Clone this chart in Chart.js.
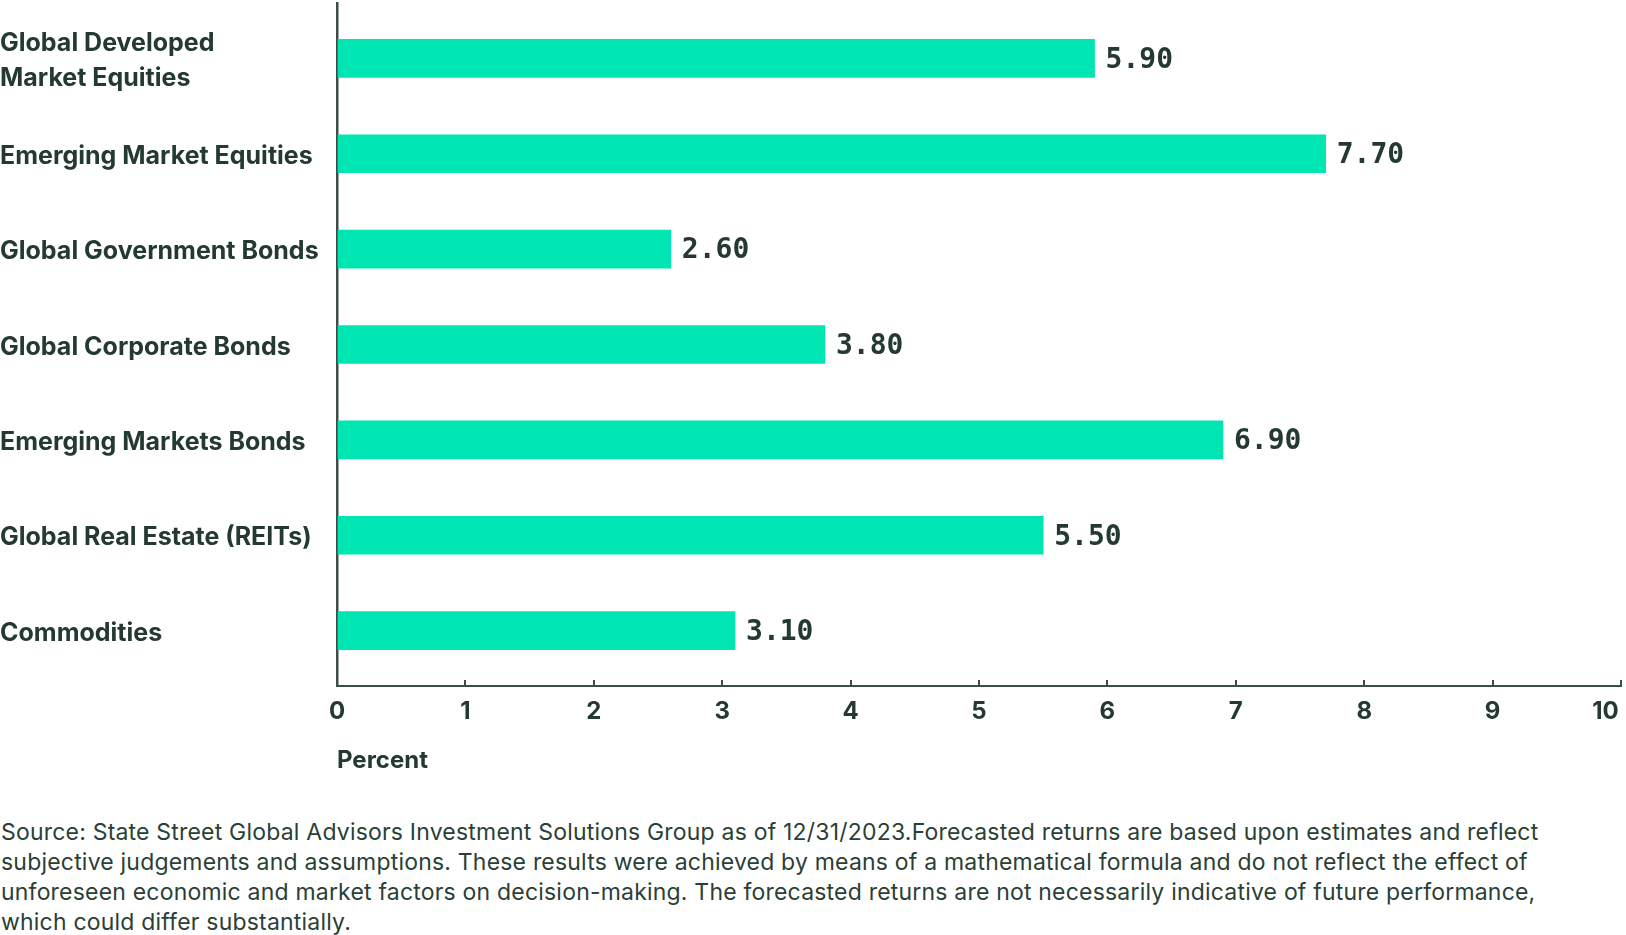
<!DOCTYPE html>
<html>
<head>
<meta charset="utf-8">
<script src="https://cdn.jsdelivr.net/npm/chart.js@4.4.1/dist/chart.umd.min.js"></script>
<style>
  html, body { margin: 0; background: #fff; overflow: hidden; }
  #box { position: relative; width: 1626px; height: 790px; }
  #nota {
    position: absolute; left: 1px; top: 817px; width: 1610px;
    font-family: Inter, sans-serif; font-size: 23px; line-height: 30px;
    color: #2b3f35; letter-spacing: 0.2px; white-space: nowrap;
  }
</style>
</head>
<body>
<div id="box"><canvas id="grafico"></canvas></div>
<div id="nota">Source: State Street Global Advisors Investment Solutions Group as of 12/31/2023.Forecasted returns are based upon estimates and reflect<br>subjective judgements and assumptions. These results were achieved by means of a mathematical formula and do not reflect the effect of<br>unforeseen economic and market factors on decision-making. The forecasted returns are not necessarily indicative of future performance,<br>which could differ substantially.</div>

<script>
var Categorias = [
    ["Global Developed", "Market Equities"],
    "Emerging Market Equities",
    "Global Government Bonds",
    "Global Corporate Bonds",
    "Emerging Markets Bonds",
    "Global Real Estate (REITs)",
    "Commodities"
];
var Retornos = [5.90, 7.70, 2.60, 3.80, 6.90, 5.50, 3.10];
var TicksX = [0, 1, 2, 3, 4, 5, 6, 7, 8, 9, 10];

var CorTexto = "#243a30";
var CorEixo = "#3c4f46";

var pontos = [];
for (var i = 0; i < Retornos.length; i++) {
    pontos[i] = { x: Retornos[i], y: i };
}

// rotulos de valor ao lado das barras
var rotulosValor = {
    id: 'rotulosValor',
    afterDatasetsDraw: function (chart) {
        var ctx = chart.ctx;
        var barras = chart.getDatasetMeta(0).data;
        ctx.save();
        ctx.font = "bold 28px 'DejaVu Sans Mono'";
        ctx.fillStyle = CorTexto;
        ctx.textBaseline = "middle";
        ctx.textAlign = "left";
        for (var i = 0; i < barras.length; i++) {
            ctx.fillText(Retornos[i].toFixed(2), barras[i].x + 11, barras[i].y + 2);
        }
        ctx.restore();
    }
};

new Chart(document.getElementById("grafico"), {
    type: 'bar',
    data: {
        datasets: [{
            data: pontos,
            backgroundColor: "#00e6b2",
            barThickness: 38
        }]
    },
    options: {
        indexAxis: 'y',
        responsive: true,
        maintainAspectRatio: false,
        animation: false,
        layout: { autoPadding: false, padding: { top: 3, right: 5, left: 0, bottom: 0 } },
        plugins: { legend: { display: false }, tooltip: { enabled: false } },
        scales: {
            y: {
                type: 'linear',
                reverse: true,
                offset: false,
                min: -0.58,
                max: 6.58,
                afterBuildTicks: function (scale) {
                    // rotulos um pouco abaixo do centro da barra, como no original
                    scale.ticks = Categorias.map(function (c, i) { return { value: i + 0.028 }; });
                },
                afterFit: function (scale) {
                    scale.width = 337;
                    scale.paddingTop = 0;
                    scale.paddingBottom = 0;
                },
                grid: { display: false, offset: false },
                border: { display: true, color: CorEixo, width: 2.5 },
                ticks: {
                    crossAlign: 'far',
                    autoSkip: false,
                    color: CorTexto,
                    font: { family: 'Inter', size: 25, weight: 'bold', lineHeight: 1.38 },
                    callback: function (v) { return Categorias[Math.round(v)]; }
                }
            },
            x: {
                type: 'linear',
                min: 0,
                max: 10,
                afterBuildTicks: function (scale) {
                    scale.ticks = TicksX.map(function (t) { return { value: t }; });
                },
                afterFit: function (scale) {
                    scale.height = 104;
                    scale.paddingLeft = 0;
                    scale.paddingRight = 0;
                },
                grid: { drawOnChartArea: false, drawTicks: true, tickLength: -6, color: CorEixo, lineWidth: 2 },
                border: { display: true, color: CorEixo, width: 2 },
                ticks: {
                    padding: 17,
                    color: CorTexto,
                    maxRotation: 0,
                    font: { family: 'Inter', size: 24, weight: 'bold' },
                    callback: function (v) { return v == 10 ? "10\u2007\u2007" : String(v); }
                },
                title: {
                    display: true,
                    text: 'Percent',
                    align: 'start',
                    color: CorTexto,
                    font: { family: 'Inter', size: 24, weight: 'bold' },
                    padding: { top: 0, bottom: 15 }
                }
            }
        }
    },
    plugins: [rotulosValor]
});
</script>
</body>
</html>
